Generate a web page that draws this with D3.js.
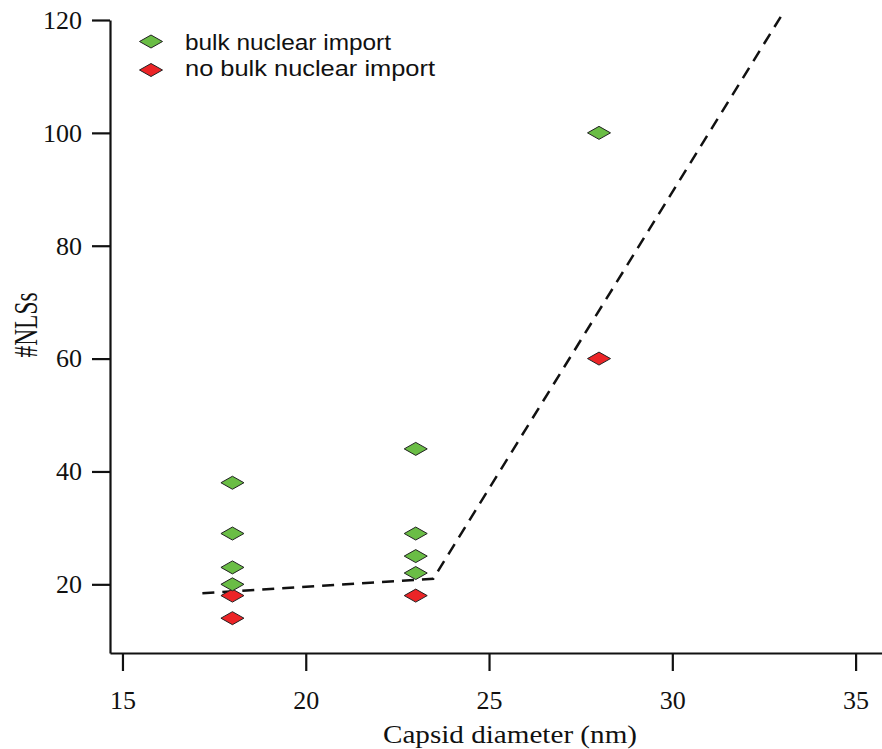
<!DOCTYPE html>
<html>
<head>
<meta charset="utf-8">
<script src="https://cdn.jsdelivr.net/npm/d3@7"></script>
<style>
  body { margin: 0; background: #fff; }
  svg { display: block; }
</style>
</head>
<body>
<div id="chart"></div>
<script>
var width = 882, height = 749

// data
var bulkX = [18, 18, 18, 18, 23, 23, 23, 23, 28]
var bulkY = [38, 29, 23, 20, 44, 29, 25, 22, 100]
var noBulkX = [18, 18, 23, 28]
var noBulkY = [18, 14, 18, 60]
var fitX = [17.18, 23.48, 32.96]
var fitY = [18.4, 21.0, 120.6]
var xTicks = [15, 20, 25, 30, 35]
var yTicks = [20, 40, 60, 80, 100, 120]
var legendLabels = ["bulk nuclear import", "no bulk nuclear import"]
var legendColors = ["#6abd45", "#ec2427"]

var x = d3.scaleLinear().domain([14.66, 35.72]).range([110, 882])
var y = d3.scaleLinear().domain([7.83, 120]).range([653, 20])

var svg = d3.select("#chart").append("svg")
  .attr("width", width)
  .attr("height", height)

var serif = "'Liberation Serif', 'DejaVu Serif', serif"

// AXES
svg.append("g")
  .attr("transform", "translate(0,653)")
  .call(d3.axisBottom(x).tickValues(xTicks).tickSize(18).tickSizeOuter(0).tickPadding(20))
svg.append("g")
  .attr("transform", "translate(110,0)")
  .call(d3.axisLeft(y).tickValues(yTicks).tickSize(18).tickSizeOuter(0).tickPadding(10))

svg.selectAll(".domain, .tick line")
  .attr("stroke", "#111")
  .attr("stroke-width", 2.2)
svg.selectAll(".tick text")
  .attr("fill", "#111")
  .style("font-family", serif)
  .style("font-size", "26px")

svg.append("text")
  .attr("x", 510)
  .attr("y", 743)
  .attr("text-anchor", "middle")
  .attr("textLength", 254)
  .attr("lengthAdjust", "spacingAndGlyphs")
  .style("font-family", serif)
  .style("font-size", "26px")
  .attr("fill", "#111")
  .text("Capsid diameter (nm)")

svg.append("text")
  .attr("transform", "translate(37,325) rotate(-90) scale(0.9,1.3)")
  .attr("text-anchor", "middle")
  .style("font-family", serif)
  .style("font-size", "26px")
  .attr("fill", "#111")
  .text("#NLSs")

// FIT LINE
var line = d3.line()
  .x(function(d) { return x(d[0]) })
  .y(function(d) { return y(d[1]) })

svg.append("path")
  .datum(d3.zip(fitX, fitY))
  .attr("d", line)
  .attr("fill", "none")
  .attr("stroke", "#111")
  .attr("stroke-width", 2.5)
  .attr("stroke-dasharray", "12,8")

// POINTS
function diamond(cx, cy) {
  return "M" + (cx - 11.5) + "," + cy + "L" + cx + "," + (cy - 6.5) +
    "L" + (cx + 11.5) + "," + cy + "L" + cx + "," + (cy + 6.5) + "Z"
}

svg.append("g").selectAll("path")
  .data(d3.zip(noBulkX, noBulkY))
  .enter().append("path")
    .attr("d", function(d) { return diamond(x(d[0]), y(d[1])) })
    .attr("fill", legendColors[1])
    .attr("stroke", "#222")
    .attr("stroke-width", 1)

svg.append("g").selectAll("path")
  .data(d3.zip(bulkX, bulkY))
  .enter().append("path")
    .attr("d", function(d) { return diamond(x(d[0]), y(d[1])) })
    .attr("fill", legendColors[0])
    .attr("stroke", "#222")
    .attr("stroke-width", 1)

// LEGEND
var legend = svg.append("g").selectAll("g")
  .data(legendLabels)
  .enter().append("g")

legend.append("path")
  .attr("d", function(d, i) { return diamond(151, 41.5 + i * 28.5) })
  .attr("fill", function(d, i) { return legendColors[i] })
  .attr("stroke", "#222")
  .attr("stroke-width", 1)

legend.append("text")
  .attr("x", 185)
  .attr("y", function(d, i) { return 50 + i * 26 })
  .attr("textLength", function(d, i) { return i ? 250 : 206 })
  .attr("lengthAdjust", "spacingAndGlyphs")
  .style("font-family", "'Liberation Sans', Arial, sans-serif")
  .style("font-size", "22px")
  .attr("fill", "#111")
  .text(function(d) { return d })
</script>
</body>
</html>
